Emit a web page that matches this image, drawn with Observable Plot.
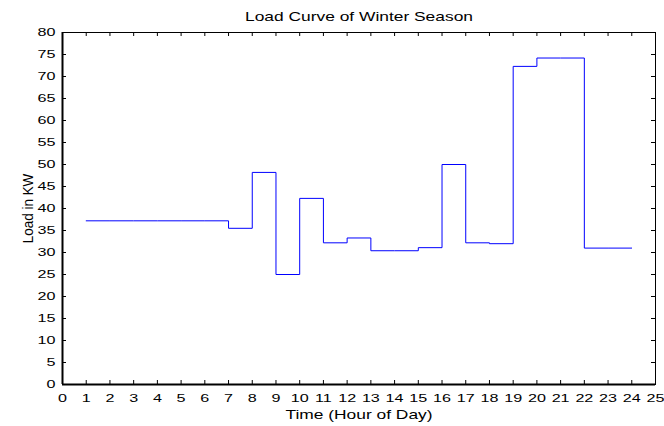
<!DOCTYPE html>
<html>
<head>
<meta charset="utf-8">
<script src="https://cdn.jsdelivr.net/npm/d3@7"></script>
<script src="https://cdn.jsdelivr.net/npm/@observablehq/plot@0.6"></script>
<style>
  html, body { margin: 0; padding: 0; background: #fff; }
  #chart svg { display: block; }
</style>
</head>
<body>
<div id="chart"></div>
<script>
// Data (hour of day -> load in kW, step after)
const hours = [1, 2, 3, 4, 5, 6, 7, 8, 9, 10, 11, 12, 13, 14, 15, 16, 17, 18, 19, 20, 21, 22, 23, 24];
const load  = [37.2, 37.2, 37.2, 37.2, 37.2, 37.2, 35.5, 48.2, 25, 42.3, 32.2, 33.3, 30.4, 30.4, 31.1, 50, 32.2, 32, 72.3, 74.2, 74.2, 31, 31, 31];

const xTicks = [0, 1, 2, 3, 4, 5, 6, 7, 8, 9, 10, 11, 12, 13, 14, 15, 16, 17, 18, 19, 20, 21, 22, 23, 24, 25];
const yTicks = [0, 5, 10, 15, 20, 25, 30, 35, 40, 45, 50, 55, 60, 65, 70, 75, 80];

const titleText = "Load Curve of Winter Season";
const xLabel = "Time (Hour of Day)";
const yLabel = "Load in KW";

const data = hours.map((h, i) => ({hour: h, load: load[i]}));

const W = 664, H = 426;
const mT = 32, mB = 42, mL = 62, mR = 9;
const frameW = W - mL - mR, frameH = H - mT - mB;
const tickLen = 4;
const stretch = 1.38; // reference text is drawn horizontally wide

const chart = Plot.plot({
  width: W,
  height: H,
  marginTop: mT,
  marginBottom: mB,
  marginLeft: mL,
  marginRight: mR,
  style: {fontFamily: "'Liberation Sans', Arial, sans-serif", fontSize: "11.7px", color: "#000", background: "#fff"},
  x: {domain: [0, 25]},
  y: {domain: [0, 80]},
  marks: [
    // inward ticks on all four sides
    Plot.tickX(xTicks, {x: d => d, insetTop: frameH - tickLen, stroke: "#000", strokeWidth: 1}),
    Plot.tickX(xTicks, {x: d => d, insetBottom: frameH - tickLen, stroke: "#000", strokeWidth: 1}),
    Plot.tickY(yTicks, {y: d => d, insetRight: frameW - tickLen, stroke: "#000", strokeWidth: 1}),
    Plot.tickY(yTicks, {y: d => d, insetLeft: frameW - tickLen, stroke: "#000", strokeWidth: 1}),
    Plot.axisX({ticks: xTicks, tickSize: 0, tickPadding: 9, label: null, fontSize: 11.7, className: "hx"}),
    Plot.axisY({ticks: yTicks, tickSize: 0, tickPadding: 7, label: null, fontSize: 11.7, className: "hx"}),
    Plot.line(data, {x: "hour", y: "load", curve: "step-after", stroke: "#0000ff", strokeWidth: 1}),
    Plot.frame({stroke: "#000", strokeWidth: 1}),
    Plot.ruleY([0], {stroke: "#000", strokeWidth: 2}),
    Plot.ruleX([0], {stroke: "#000", strokeWidth: 2}),
    Plot.text([titleText], {frameAnchor: "top", dy: -20.3, lineAnchor: "top", fontSize: 12.6, fill: "#000", className: "hx"}),
    Plot.text([xLabel], {frameAnchor: "bottom", dy: 25.3, lineAnchor: "top", fontSize: 12.6, fill: "#000", className: "hx"}),
    Plot.text([yLabel], {frameAnchor: "left", dx: -34.5, rotate: -90, textAnchor: "middle", lineAnchor: "middle", fontSize: 13.5, fill: "#000", className: "vy"})
  ]
});

// widen the glyphs like the reference (horizontal stretch on screen);
// Plot positions each text with its transform, so the scale is appended there
function widen(t, sx, sy) {
  const tr = t.getAttribute("transform") || "";
  t.setAttribute("transform", `${tr} scale(${sx},${sy})`);
}
chart.querySelectorAll("g.hx text").forEach(t => widen(t, stretch, 1));
chart.querySelectorAll("g.vy text").forEach(t => widen(t, 1, 1.15));

document.getElementById("chart").appendChild(chart);
</script>
</body>
</html>
